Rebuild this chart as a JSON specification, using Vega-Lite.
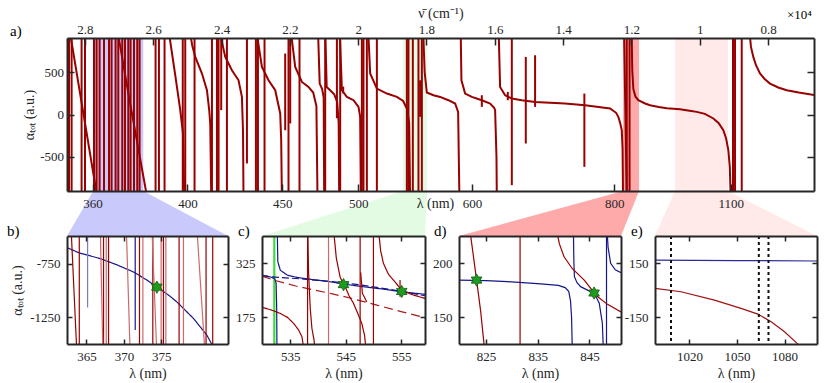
{
"$schema":"https://vega.github.io/schema/vega-lite/v6.json",
"autosize":{"type":"pad"},
"padding":{"left":7,"top":6,"right":5,"bottom":5},
"background":"white",
"title":{"text":"×10⁴","anchor":"end","frame":"bounds","fontSize":13,"dx":-6,"dy":20},
"datasets":{
"bands":[{"k":"b","x1":2.7756,"x2":2.6292},{"k":"c","x1":1.8683,"x2":1.7981},{"k":"d","x1":1.2245,"x2":1.1777},{"k":"e","x1":1.0723,"x2":0.9172}],
"trap":[{"k":"b","a":-905,"x1":2.7756,"x2":2.6292},{"k":"b","a":-1437,"x1":2.8525,"x2":2.3812},
{"k":"c","a":-905,"x1":1.8683,"x2":1.7981},{"k":"c","a":-1437,"x1":2.2816,"x2":1.8044},
{"k":"d","a":-905,"x1":1.2245,"x2":1.1777},{"k":"d","a":-1437,"x1":1.7049,"x2":1.2306},
{"k":"e","a":-905,"x1":1.0723,"x2":0.9172},{"k":"e","a":-1437,"x1":1.1310,"x2":0.6568}],
"top":[
{"s":"v1","n":2.8467,"a":1000},{"s":"v1","n":2.8467,"a":-1000},
{"s":"v2","n":2.8390,"a":1000},{"s":"v2","n":2.8390,"a":-1000},
{"s":"v3","n":2.8098,"a":1000},{"s":"v3","n":2.8098,"a":-1000},
{"s":"v4","n":2.7998,"a":1000},{"s":"v4","n":2.7998,"a":-1000},
{"s":"v5","n":2.7735,"a":1000},{"s":"v5","n":2.7735,"a":-1000},
{"s":"v6","n":2.7659,"a":1000},{"s":"v6","n":2.7659,"a":-1000},
{"s":"v7","n":2.7571,"a":1000},{"s":"v7","n":2.7571,"a":-1000},
{"s":"v8","n":2.7442,"a":1000},{"s":"v8","n":2.7442,"a":-1000},
{"s":"v9","n":2.7296,"a":1000},{"s":"v9","n":2.7296,"a":-1000},
{"s":"v10","n":2.7220,"a":1000},{"s":"v10","n":2.7220,"a":-1000},
{"s":"v11","n":2.7103,"a":1000},{"s":"v11","n":2.7103,"a":-1000},
{"s":"v12","n":2.7024,"a":1000},{"s":"v12","n":2.7024,"a":-1000},
{"s":"v13","n":2.6907,"a":1000},{"s":"v13","n":2.6907,"a":-1000},
{"s":"v14","n":2.6828,"a":1000},{"s":"v14","n":2.6828,"a":-1000},
{"s":"v15","n":2.6731,"a":1000},{"s":"v15","n":2.6731,"a":-1000},
{"s":"v16","n":2.6664,"a":1000},{"s":"v16","n":2.6664,"a":-1000},
{"s":"v17","n":2.6564,"a":1000},{"s":"v17","n":2.6564,"a":-1000},
{"s":"v18","n":2.6468,"a":1000},{"s":"v18","n":2.6468,"a":-1000},
{"s":"v19","n":2.6400,"a":1000},{"s":"v19","n":2.6400,"a":-1000},
{"s":"v20","n":2.5932,"a":1000},{"s":"v20","n":2.5932,"a":-1000},
{"s":"v21","n":2.5833,"a":1000},{"s":"v21","n":2.5833,"a":-1000},
{"s":"v22","n":2.5669,"a":1000},{"s":"v22","n":2.5669,"a":-1000},
{"s":"v23","n":2.5136,"a":1000},{"s":"v23","n":2.5136,"a":-1000},
{"s":"v24","n":2.5063,"a":1000},{"s":"v24","n":2.5063,"a":-1000},
{"s":"v25","n":2.4791,"a":1000},{"s":"v25","n":2.4791,"a":-1000},
{"s":"v26","n":2.4281,"a":1000},{"s":"v26","n":2.4281,"a":-1000},
{"s":"v27","n":2.4135,"a":1000},{"s":"v27","n":2.4135,"a":-1000},
{"s":"v28","n":2.4088,"a":1000},{"s":"v28","n":2.4088,"a":-1000},
{"s":"v29","n":2.3843,"a":1000},{"s":"v29","n":2.3843,"a":-1000},
{"s":"v30","n":2.2994,"a":1000},{"s":"v30","n":2.2994,"a":-1000},
{"s":"v31","n":2.2935,"a":1000},{"s":"v31","n":2.2935,"a":-1000},
{"s":"v32","n":2.2742,"a":1000},{"s":"v32","n":2.2742,"a":-1000},
{"s":"v33","n":2.2040,"a":1000},{"s":"v33","n":2.2040,"a":-1000},
{"s":"v34","n":2.1718,"a":1000},{"s":"v34","n":2.1718,"a":-1000},
{"s":"v35","n":2.0966,"a":1000},{"s":"v35","n":2.0966,"a":-1000},
{"s":"v36","n":2.0527,"a":1000},{"s":"v36","n":2.0527,"a":-1000},
{"s":"v37","n":1.9892,"a":1000},{"s":"v37","n":1.9892,"a":-1000},
{"s":"v38","n":1.9845,"a":1000},{"s":"v38","n":1.9845,"a":-1000},
{"s":"v39","n":1.9746,"a":1000},{"s":"v39","n":1.9746,"a":-1000},
{"s":"v40","n":1.9453,"a":1000},{"s":"v40","n":1.9453,"a":-1000},
{"s":"v41","n":1.8575,"a":1000},{"s":"v41","n":1.8575,"a":-1000},
{"s":"v42","n":1.8528,"a":1000},{"s":"v42","n":1.8528,"a":-1000},
{"s":"v43","n":1.8400,"a":1000},{"s":"v43","n":1.8400,"a":-1000},
{"s":"v44","n":1.8235,"a":1000},{"s":"v44","n":1.8235,"a":-1000},
{"s":"v45","n":1.8136,"a":1000},{"s":"v45","n":1.8136,"a":-1000},
{"s":"v46","n":1.2137,"a":1000},{"s":"v46","n":1.2137,"a":-1000},
{"s":"v47","n":1.2055,"a":1000},{"s":"v47","n":1.2055,"a":-1000},
{"s":"v48","n":0.9027,"a":1000},{"s":"v48","n":0.9027,"a":-1000},
{"s":"v49","n":0.8967,"a":1000},{"s":"v49","n":0.8967,"a":-1000},
{"s":"v50","n":0.8771,"a":1000},{"s":"v50","n":0.8771,"a":-1000},
{"s":"S1","n":2.8450,"a":1000},{"s":"S1","n":2.8040,"a":0},{"s":"S1","n":2.7630,"a":-1000},
{"s":"S2","n":2.7050,"a":1000},{"s":"S2","n":2.6711,"a":208},{"s":"S2","n":2.6170,"a":-1000},
{"s":"S3","n":2.5552,"a":1000},{"s":"S3","n":2.5356,"a":465},{"s":"S3","n":2.5209,"a":51},{"s":"S3","n":2.5130,"a":-221},{"s":"S3","n":2.5092,"a":-1000},
{"s":"S4","n":2.4931,"a":1000},{"s":"S4","n":2.4860,"a":820},{"s":"S4","n":2.4770,"a":681},{"s":"S4","n":2.4574,"a":485},{"s":"S4","n":2.4428,"a":287},{"s":"S4","n":2.4361,"a":50},{"s":"S4","n":2.4331,"a":-106},{"s":"S4","n":2.4302,"a":-1000},
{"s":"S5","n":2.4068,"a":1000},{"s":"S5","n":2.3892,"a":681},{"s":"S5","n":2.3697,"a":524},{"s":"S5","n":2.3503,"a":405},{"s":"S5","n":2.3404,"a":208},{"s":"S5","n":2.3372,"a":-200},{"s":"S5","n":2.3357,"a":-1000},
{"s":"S6","n":2.2985,"a":1000},{"s":"S6","n":2.2818,"a":563},{"s":"S6","n":2.2625,"a":405},{"s":"S6","n":2.2429,"a":287},{"s":"S6","n":2.2283,"a":12},{"s":"S6","n":2.2254,"a":-300},{"s":"S6","n":2.2233,"a":-1000},
{"s":"S7","n":2.1976,"a":1000},{"s":"S7","n":2.1844,"a":563},{"s":"S7","n":2.1648,"a":385},{"s":"S7","n":2.1454,"a":326},{"s":"S7","n":2.1317,"a":260},{"s":"S7","n":2.1223,"a":100},{"s":"S7","n":2.1191,"a":-1000},
{"s":"S8","n":2.1177,"a":1000},{"s":"S8","n":2.1127,"a":366},{"s":"S8","n":2.1054,"a":300},{"s":"S8","n":2.1010,"a":200},{"s":"S8","n":2.0995,"a":-1000},
{"s":"S9","n":2.0966,"a":1000},{"s":"S9","n":2.0922,"a":326},{"s":"S9","n":2.0820,"a":287},{"s":"S9","n":2.0703,"a":240},{"s":"S9","n":2.0615,"a":150},{"s":"S9","n":2.0571,"a":-100},{"s":"S9","n":2.0556,"a":-1000},
{"s":"S10","n":2.0541,"a":1000},{"s":"S10","n":2.0477,"a":287},{"s":"S10","n":2.0331,"a":208},{"s":"S10","n":2.0137,"a":169},{"s":"S10","n":1.9991,"a":90},{"s":"S10","n":1.9942,"a":-28},{"s":"S10","n":1.9921,"a":-1000},
{"s":"S11","n":1.9708,"a":1000},{"s":"S11","n":1.9649,"a":485},{"s":"S11","n":1.9453,"a":307},{"s":"S11","n":1.9160,"a":248},{"s":"S11","n":1.8868,"a":208},{"s":"S11","n":1.8683,"a":160},{"s":"S11","n":1.8566,"a":60},{"s":"S11","n":1.8508,"a":-100},{"s":"S11","n":1.8479,"a":-1000},
{"s":"S12","n":1.8098,"a":1000},{"s":"S12","n":1.8054,"a":500},{"s":"S12","n":1.7990,"a":260},{"s":"S12","n":1.7797,"a":228},{"s":"S12","n":1.7601,"a":208},{"s":"S12","n":1.7358,"a":169},{"s":"S12","n":1.7162,"a":130},{"s":"S12","n":1.7074,"a":30},{"s":"S12","n":1.7036,"a":-1000},
{"s":"S13","n":1.7000,"a":1000},{"s":"S13","n":1.6977,"a":405},{"s":"S13","n":1.6869,"a":248},{"s":"S13","n":1.6673,"a":208},{"s":"S13","n":1.6380,"a":169},{"s":"S13","n":1.6137,"a":130},{"s":"S13","n":1.6020,"a":80},{"s":"S13","n":1.5991,"a":51},{"s":"S13","n":1.5951,"a":-500},{"s":"S13","n":1.5941,"a":-1000},
{"s":"S14","n":1.5888,"a":1000},{"s":"S14","n":1.5845,"a":326},{"s":"S14","n":1.5699,"a":228},{"s":"S14","n":1.5502,"a":189},{"s":"S14","n":1.5210,"a":169},{"s":"S14","n":1.4821,"a":149},{"s":"S14","n":1.3943,"a":130},{"s":"S14","n":1.3357,"a":110},{"s":"S14","n":1.2626,"a":71},{"s":"S14","n":1.2450,"a":20},{"s":"S14","n":1.2383,"a":-28},{"s":"S14","n":1.2330,"a":-100},{"s":"S14","n":1.2283,"a":-186},{"s":"S14","n":1.2260,"a":-400},{"s":"S14","n":1.2245,"a":-1000},
{"s":"S15","n":1.1996,"a":1000},{"s":"S15","n":1.1975,"a":520},{"s":"S15","n":1.1944,"a":300},{"s":"S15","n":1.1880,"a":210},{"s":"S15","n":1.1798,"a":169},{"s":"S15","n":1.1600,"a":130},{"s":"S15","n":1.1455,"a":110},{"s":"S15","n":1.1200,"a":90},{"s":"S15","n":1.0966,"a":75},{"s":"S15","n":1.0577,"a":63},{"s":"S15","n":1.0300,"a":45},{"s":"S15","n":1.0088,"a":31},{"s":"S15","n":0.9850,"a":8},{"s":"S15","n":0.9602,"a":-47},{"s":"S15","n":0.9450,"a":-100},{"s":"S15","n":0.9310,"a":-186},{"s":"S15","n":0.9230,"a":-280},{"s":"S15","n":0.9163,"a":-422},{"s":"S15","n":0.9120,"a":-620},{"s":"S15","n":0.9093,"a":-1000},
{"s":"S16","n":0.8549,"a":1000},{"s":"S16","n":0.8500,"a":800},{"s":"S16","n":0.8432,"a":681},{"s":"S16","n":0.8350,"a":580},{"s":"S16","n":0.8236,"a":485},{"s":"S16","n":0.8100,"a":420},{"s":"S16","n":0.7943,"a":366},{"s":"S16","n":0.7700,"a":320},{"s":"S16","n":0.7455,"a":287},{"s":"S16","n":0.7100,"a":260},{"s":"S16","n":0.6600,"a":228},
{"s":"SL1","n":1.2216,"a":1000},{"s":"SL1","n":1.2137,"a":-1000},
{"s":"p1","n":2.4010,"a":1000},{"s":"p1","n":2.4010,"a":51},
{"s":"p2","n":2.3257,"a":1000},{"s":"p2","n":2.3257,"a":-579},
{"s":"p3","n":2.2137,"a":721},{"s":"p3","n":2.2137,"a":-186},
{"s":"p4","n":2.1990,"a":1000},{"s":"p4","n":2.1990,"a":-106},
{"s":"p5","n":2.0623,"a":1000},{"s":"p5","n":2.0623,"a":-44},
{"s":"p6","n":2.0439,"a":330},{"s":"p6","n":2.0439,"a":250},
{"s":"p7","n":1.8186,"a":405},{"s":"p7","n":1.8186,"a":-28},
{"s":"p8","n":1.6380,"a":228},{"s":"p8","n":1.6380,"a":90},
{"s":"p9","n":1.5620,"a":267},{"s":"p9","n":1.5620,"a":169},
{"s":"p10","n":1.5502,"a":1000},{"s":"p10","n":1.5502,"a":-836},
{"s":"p11","n":1.5093,"a":681},{"s":"p11","n":1.5093,"a":-343},
{"s":"p12","n":1.4821,"a":701},{"s":"p12","n":1.4821,"a":90},
{"s":"p13","n":1.3378,"a":248},{"s":"p13","n":1.3378,"a":-619}
],
"pb":[
{"s":"b1","k":"nv","x":362.4,"a":-602},{"s":"b1","k":"nv","x":364,"a":-650},{"s":"b1","k":"nv","x":366.84,"a":-704},{"s":"b1","k":"nv","x":369,"a":-760},{"s":"b1","k":"nv","x":371.28,"a":-828},{"s":"b1","k":"nv","x":373,"a":-900},{"s":"b1","k":"nv","x":374.4,"a":-967},{"s":"b1","k":"nv","x":376,"a":-1045},{"s":"b1","k":"nv","x":377.07,"a":-1106},{"s":"b1","k":"nv","x":379.28,"a":-1259},{"s":"b1","k":"nv","x":381.07,"a":-1414},{"s":"b1","k":"nv","x":381.9,"a":-1520},
{"s":"b2","k":"lb","x":365.15,"a":-400},{"s":"b2","k":"lb","x":365.15,"a":-1157},
{"s":"b3","k":"nv","x":371.51,"a":-400},{"s":"b3","k":"nv","x":371.51,"a":-1368},
{"s":"r1","k":"rd","x":364.04,"a":-400},{"s":"r1","k":"rd","x":364.04,"a":-1600},
{"s":"r2","k":"rd","x":367.28,"a":-400},{"s":"r2","k":"rd","x":367.28,"a":-1600},
{"s":"r3","k":"lr","x":367.64,"a":-400},{"s":"r3","k":"lr","x":367.64,"a":-1600},
{"s":"r4","k":"rd","x":367.95,"a":-400},{"s":"r4","k":"rd","x":367.95,"a":-1600},
{"s":"r5","k":"rd","x":372.08,"a":-400},{"s":"r5","k":"rd","x":372.08,"a":-1600},
{"s":"r6","k":"lr","x":372.53,"a":-400},{"s":"r6","k":"lr","x":372.53,"a":-1600},
{"s":"r7","k":"rd","x":373.86,"a":-400},{"s":"r7","k":"rd","x":373.86,"a":-1600},
{"s":"r8","k":"lr","x":374.97,"a":-400},{"s":"r8","k":"lr","x":374.97,"a":-1600},
{"s":"r9","k":"rd","x":375.28,"a":-400},{"s":"r9","k":"rd","x":375.28,"a":-1600},
{"s":"r10","k":"lr","x":375.6,"a":-400},{"s":"r10","k":"lr","x":375.6,"a":-1600},
{"s":"r11","k":"rd","x":377.37,"a":-400},{"s":"r11","k":"rd","x":377.37,"a":-1600},
{"s":"r12","k":"lr","x":377.95,"a":-400},{"s":"r12","k":"lr","x":377.95,"a":-1600},
{"s":"r13","k":"rd","x":380.97,"a":-400},{"s":"r13","k":"rd","x":380.97,"a":-1600},
{"s":"r14","k":"rd","x":381.86,"a":-400},{"s":"r14","k":"rd","x":381.86,"a":-1600},
{"s":"l1","k":"rd","x":362.93,"a":-400},{"s":"l1","k":"rd","x":363.73,"a":-1600},
{"s":"l2","k":"lr","x":366.84,"a":-400},{"s":"l2","k":"lr","x":367.2,"a":-1600},
{"s":"l3","k":"lr","x":370.31,"a":-400},{"s":"l3","k":"lr","x":370.84,"a":-1600},
{"s":"l4","k":"lr","x":373.73,"a":-400},{"s":"l4","k":"lr","x":374.4,"a":-1600},
{"s":"l5","k":"lr","x":379.73,"a":-400},{"s":"l5","k":"lr","x":380.84,"a":-1600}
],
"pbs":[{"x":374.4,"a":-969}],
"pc":[
{"s":"n1","k":"nv","x":529.9,"a":292.5},{"s":"n1","k":"nv","x":531.5,"a":287},{"s":"n1","k":"nv","x":532.2,"a":282},{"s":"n1","k":"nv","x":532.45,"a":270},{"s":"n1","k":"nv","x":532.55,"a":200},{"s":"n1","k":"nv","x":532.6,"a":80},
{"s":"n2","k":"nv","x":532.65,"a":420},{"s":"n2","k":"nv","x":532.75,"a":330},{"s":"n2","k":"nv","x":533.2,"a":306},{"s":"n2","k":"nv","x":534.5,"a":292},{"s":"n2","k":"nv","x":536.2,"a":286},{"s":"n2","k":"nv","x":539,"a":280},{"s":"n2","k":"nv","x":542.2,"a":274},{"s":"n2","k":"nv","x":544.6,"a":267.5},{"s":"n2","k":"nv","x":548.2,"a":260},{"s":"n2","k":"nv","x":552,"a":253},{"s":"n2","k":"nv","x":555.1,"a":246},{"s":"n2","k":"nv","x":559.3,"a":239},
{"s":"nd","k":"nd","x":529.9,"a":290},{"s":"nd","k":"nd","x":533,"a":286},{"s":"nd","k":"nd","x":536,"a":283},{"s":"nd","k":"nd","x":540,"a":278},{"s":"nd","k":"nd","x":544.6,"a":271},{"s":"nd","k":"nd","x":548.2,"a":264},{"s":"nd","k":"nd","x":552,"a":255},{"s":"nd","k":"nd","x":555.1,"a":247},{"s":"nd","k":"nd","x":559.3,"a":235},
{"s":"rdd","k":"rdd","x":529.9,"a":289.7},{"s":"rdd","k":"rdd","x":532,"a":278.6},{"s":"rdd","k":"rdd","x":536,"a":262},{"s":"rdd","k":"rdd","x":542.2,"a":241.6},{"s":"rdd","k":"rdd","x":546,"a":228},{"s":"rdd","k":"rdd","x":550.6,"a":209.2},{"s":"rdd","k":"rdd","x":555,"a":191},{"s":"rdd","k":"rdd","x":559.3,"a":174},
{"s":"r1","k":"rd","x":529.9,"a":202.7},{"s":"r1","k":"rd","x":531.5,"a":196},{"s":"r1","k":"rd","x":533.2,"a":186},{"s":"r1","k":"rd","x":534.5,"a":175},{"s":"r1","k":"rd","x":535.6,"a":158.3},{"s":"r1","k":"rd","x":536.5,"a":140},{"s":"r1","k":"rd","x":537.1,"a":121.3},{"s":"r1","k":"rd","x":537.52,"a":80},
{"s":"r2","k":"rd","x":538.12,"a":80},{"s":"r2","k":"rd","x":538.12,"a":420},
{"s":"r3","k":"rd","x":538.15,"a":420},{"s":"r3","k":"rd","x":538.3,"a":300},{"s":"r3","k":"rd","x":538.6,"a":200},{"s":"r3","k":"rd","x":538.9,"a":145},{"s":"r3","k":"rd","x":539.3,"a":110},{"s":"r3","k":"rd","x":539.5,"a":80},
{"s":"l1","k":"lr","x":541.9,"a":80},{"s":"l1","k":"lr","x":541.9,"a":420},
{"s":"r4","k":"rd","x":542.8,"a":420},{"s":"r4","k":"rd","x":543.3,"a":340},{"s":"r4","k":"rd","x":544,"a":286},{"s":"r4","k":"rd","x":544.9,"a":260},{"s":"r4","k":"rd","x":545.6,"a":235},{"s":"r4","k":"rd","x":546.4,"a":214},{"s":"r4","k":"rd","x":547.2,"a":185},{"s":"r4","k":"rd","x":547.9,"a":158},{"s":"r4","k":"rd","x":548.4,"a":125},{"s":"r4","k":"rd","x":548.7,"a":80},
{"s":"r5","k":"rd","x":547.6,"a":80},{"s":"r5","k":"rd","x":547.6,"a":420},
{"s":"r6","k":"rd","x":547.7,"a":300},{"s":"r6","k":"rd","x":548,"a":242},{"s":"r6","k":"rd","x":548.8,"a":218},
{"s":"r7","k":"rd","x":550.0,"a":80},{"s":"r7","k":"rd","x":550.0,"a":420},
{"s":"r8","k":"rd","x":550.9,"a":420},{"s":"r8","k":"rd","x":551.3,"a":360},{"s":"r8","k":"rd","x":551.8,"a":325},{"s":"r8","k":"rd","x":552.7,"a":295},{"s":"r8","k":"rd","x":553.6,"a":278.6},{"s":"r8","k":"rd","x":555.1,"a":250.8},{"s":"r8","k":"rd","x":557,"a":238},{"s":"r8","k":"rd","x":559.3,"a":227.7},
{"s":"r9","k":"rd","x":554.8,"a":278.6},{"s":"r9","k":"rd","x":554.8,"a":232.4}
],
"pcs":[{"x":544.6,"a":266},{"x":555.1,"a":247}],
"pcg":[{"x":532.12}],
"pd":[
{"s":"r1","k":"rd","x":821.9,"a":232},{"s":"r1","k":"rd","x":822.06,"a":225.3},{"s":"r1","k":"rd","x":823.2,"a":184.5},{"s":"r1","k":"rd","x":824.0,"a":155},{"s":"r1","k":"rd","x":824.64,"a":125},{"s":"r1","k":"rd","x":824.75,"a":118},
{"s":"r2","k":"rd","x":831.6,"a":118},{"s":"r2","k":"rd","x":831.6,"a":232},
{"s":"nA","k":"nv","x":819.8,"a":184.5},{"s":"nA","k":"nv","x":825,"a":184},{"s":"nA","k":"nv","x":829.15,"a":183},{"s":"nA","k":"nv","x":835.6,"a":181},{"s":"nA","k":"nv","x":839,"a":179.5},{"s":"nA","k":"nv","x":840.3,"a":177.5},{"s":"nA","k":"nv","x":841.0,"a":174},{"s":"nA","k":"nv","x":841.35,"a":165},{"s":"nA","k":"nv","x":841.55,"a":150},{"s":"nA","k":"nv","x":841.7,"a":118},
{"s":"nB","k":"nv","x":841.9,"a":232},{"s":"nB","k":"nv","x":842.0,"a":200},{"s":"nB","k":"nv","x":842.1,"a":187.6},{"s":"nB","k":"nv","x":842.6,"a":182},{"s":"nB","k":"nv","x":843.3,"a":178.4},{"s":"nB","k":"nv","x":845.9,"a":172.2},{"s":"nB","k":"nv","x":846.5,"a":167},{"s":"nB","k":"nv","x":846.9,"a":163},{"s":"nB","k":"nv","x":847.25,"a":152},{"s":"nB","k":"nv","x":847.5,"a":144.5},{"s":"nB","k":"nv","x":847.7,"a":118},
{"s":"nV","k":"nv","x":848.3,"a":118},{"s":"nV","k":"nv","x":848.3,"a":232},
{"s":"nC","k":"nv","x":848.4,"a":232},{"s":"nC","k":"nv","x":848.6,"a":215},{"s":"nC","k":"nv","x":849.1,"a":200},{"s":"nC","k":"nv","x":850,"a":194},{"s":"nC","k":"nv","x":851.1,"a":191.4},
{"s":"r3","k":"rd","x":838.6,"a":232},{"s":"r3","k":"rd","x":839.2,"a":218},{"s":"r3","k":"rd","x":840.1,"a":206},{"s":"r3","k":"rd","x":841.7,"a":195},{"s":"r3","k":"rd","x":844.0,"a":184.5},{"s":"r3","k":"rd","x":845.9,"a":172.8},{"s":"r3","k":"rd","x":846.6,"a":169},{"s":"r3","k":"rd","x":848.5,"a":162},{"s":"r3","k":"rd","x":851.1,"a":155}
],
"pds":[{"x":823.2,"a":184.5},{"x":845.9,"a":172.5}],
"pe":[
{"x":998.3,"a":10.9},{"x":1014.7,"a":-7.6},{"x":1035.8,"a":-53.9},{"x":1052.6,"a":-100.2},{"x":1063.2,"a":-131.7},{"x":1071.6,"a":-174.3},{"x":1080,"a":-229.8},{"x":1088.4,"a":-298},{"x":1089,"a":-310}
],
"pen":[{"x":998.3,"a":168},{"x":1050,"a":165.5},{"x":1100.5,"a":163}],
"ped":[{"x":1008.4},{"x":1063.8},{"x":1069.9}]
},
"spacing":45,
"bounds":"flush",
"resolve":{"scale":{"color":"independent","strokeDash":"independent"}},
"vconcat":[
{
"width":747,"height":153,
"title":{"text":"a)","dx":-57,"dy":37},
"layer":[
{"data":{"name":"bands"},"mark":{"type":"rect"},
 "encoding":{
  "x":{"field":"x1","type":"quantitative","scale":{"domain":[2.8525,0.6655],"nice":false,"zero":false},
       "axis":{"orient":"top","zindex":1,"values":[2.8,2.6,2.4,2.2,2,1.8,1.6,1.4,1.2,1,0.8],"format":".1~f","title":"ν̄ (cm⁻¹)","tickSize":-7,"labelPadding":9,"titlePadding":3}},
  "x2":{"field":"x2"},
  "color":{"field":"k","type":"nominal","scale":{"domain":["b","c","d","e"],"range":["#c9c9fb","#e3fbe3","#ffaaaa","#ffe9e9"]},"legend":null}}},
{"data":{"name":"trap"},"mark":{"type":"area","orient":"horizontal","clip":false},
 "encoding":{
  "y":{"field":"a","type":"quantitative","scale":{"domain":[-905,905],"nice":false,"zero":false},
       "axis":{"orient":"right","zindex":1,"values":[-500,0,500],"labels":false,"title":null,"tickSize":-7}},
  "x":{"field":"x1","type":"quantitative","scale":{"domain":[2.8525,0.6655],"nice":false,"zero":false},"axis":null},
  "x2":{"field":"x2"},
  "color":{"field":"k","type":"nominal","scale":{"domain":["b","c","d","e"],"range":["#c9c9fb","#e3fbe3","#ffaaaa","#ffe9e9"]},"legend":null}}},
{"data":{"name":"top"},"mark":{"type":"line","clip":true,"strokeWidth":2,"color":"#990000"},
 "encoding":{
  "x":{"field":"n","type":"quantitative","scale":{"domain":[2.8525,0.6655],"nice":false,"zero":false},
       "axis":{"orient":"bottom","zindex":2,"values":[2.777778,2.5,2.222222,2,1.666667,1.25,0.909091],"labelExpr":"format(1000/datum.value,'.0f')","title":"λ (nm)","titleX":368,"titleY":12,"titleBaseline":"middle","tickSize":-7,"labelPadding":13}},
  "y":{"field":"a","type":"quantitative","scale":{"domain":[-905,905],"nice":false,"zero":false},
       "axis":{"orient":"left","zindex":1,"values":[-500,0,500],"labelExpr":"datum.value < 0 ? '-' + abs(datum.value) : '' + datum.value","title":"αₜₒₜ (a.u.)","tickSize":-7,"labelPadding":10.5,"titlePadding":3}},
  "detail":{"field":"s","type":"nominal"}}}
],
"resolve":{"axis":{"x":"independent","y":"independent"}}
},
{
"hconcat":[
{
"width":161,"height":108,
"title":{"text":"b)","dx":-60,"dy":8},
"layer":[
{"data":{"name":"pb"},"mark":{"type":"line","clip":true,"strokeWidth":1.2},
 "encoding":{
  "x":{"field":"x","type":"quantitative","scale":{"domain":[362.4,383.9],"nice":false,"zero":false},
       "axis":{"orient":"bottom","zindex":1,"values":[365,370,375],"title":"λ (nm)","tickSize":-5,"labelPadding":11,"titlePadding":3}},
  "y":{"field":"a","type":"quantitative","scale":{"domain":[-1497,-494],"nice":false,"zero":false},
       "axis":{"orient":"left","zindex":1,"values":[-750,-1250],"labelExpr":"datum.value < 0 ? '-' + abs(datum.value) : '' + datum.value","title":"αₜₒₜ (a.u.)","tickSize":-5,"labelPadding":12,"titlePadding":5}},
  "color":{"field":"k","type":"nominal","scale":{"domain":["rd","lr","nv","lb","nd","rdd"],"range":["#990000","#cc6a6a","#16168a","#7a7ac8","#16168a","#aa1a1a"]},"legend":null},
  "strokeDash":{"field":"k","type":"nominal","scale":{"domain":["rd","lr","nv","lb","nd","rdd"],"range":[[1,0],[1,0],[1,0],[1,0],[7,3],[9,5]]},"legend":null},
  "detail":{"field":"s","type":"nominal"}}},
{"data":{"name":"pbs"},"mark":{"type":"point","shape":"M0,-1L0.29,-0.5L0.87,-0.5L0.58,0L0.87,0.5L0.29,0.5L0,1L-0.29,0.5L-0.87,0.5L-0.58,0L-0.87,-0.5L-0.29,-0.5Z","filled":true,"fill":"#1e9a1e","stroke":"#0d5c0d","strokeWidth":0.8,"size":150,"opacity":1},
 "encoding":{
  "x":{"field":"x","type":"quantitative","scale":{"domain":[362.4,383.9],"nice":false,"zero":false},"axis":{"orient":"top","zindex":1,"values":[365,370,375],"labels":false,"title":null,"tickSize":-5}},
  "y":{"field":"a","type":"quantitative","scale":{"domain":[-1497,-494],"nice":false,"zero":false},"axis":{"orient":"right","zindex":1,"values":[-750,-1250],"labels":false,"title":null,"tickSize":-5}}}}
],
"resolve":{"axis":{"x":"independent","y":"independent"}}
},
{
"width":163,"height":108,
"title":{"text":"c)","dx":-24,"dy":8},
"layer":[
{"data":{"name":"pcg"},"mark":{"type":"rule","color":"#3ddc3d","strokeWidth":2.2},
 "encoding":{"x":{"field":"x","type":"quantitative","scale":{"domain":[529.9,559.3],"nice":false,"zero":false},"axis":null}}},
{"data":{"name":"pc"},"mark":{"type":"line","clip":true,"strokeWidth":1.2},
 "encoding":{
  "x":{"field":"x","type":"quantitative","scale":{"domain":[529.9,559.3],"nice":false,"zero":false},
       "axis":{"orient":"bottom","zindex":1,"values":[535,545,555],"title":"λ (nm)","tickSize":-5,"labelPadding":11,"titlePadding":3}},
  "y":{"field":"a","type":"quantitative","scale":{"domain":[101,401],"nice":false,"zero":false},
       "axis":{"orient":"left","zindex":1,"values":[325,175],"title":null,"tickSize":-5,"labelPadding":12}},
  "color":{"field":"k","type":"nominal","scale":{"domain":["rd","lr","nv","lb","nd","rdd"],"range":["#990000","#cc6a6a","#16168a","#7a7ac8","#16168a","#aa1a1a"]},"legend":null},
  "strokeDash":{"field":"k","type":"nominal","scale":{"domain":["rd","lr","nv","lb","nd","rdd"],"range":[[1,0],[1,0],[1,0],[1,0],[7,3],[9,5]]},"legend":null},
  "detail":{"field":"s","type":"nominal"}}},
{"data":{"name":"pcs"},"mark":{"type":"point","shape":"M0,-1L0.29,-0.5L0.87,-0.5L0.58,0L0.87,0.5L0.29,0.5L0,1L-0.29,0.5L-0.87,0.5L-0.58,0L-0.87,-0.5L-0.29,-0.5Z","filled":true,"fill":"#1e9a1e","stroke":"#0d5c0d","strokeWidth":0.8,"size":150,"opacity":1},
 "encoding":{
  "x":{"field":"x","type":"quantitative","scale":{"domain":[529.9,559.3],"nice":false,"zero":false},"axis":{"orient":"top","zindex":1,"values":[535,545,555],"labels":false,"title":null,"tickSize":-5}},
  "y":{"field":"a","type":"quantitative","scale":{"domain":[101,401],"nice":false,"zero":false},"axis":{"orient":"right","zindex":1,"values":[325,175],"labels":false,"title":null,"tickSize":-5}}}}
],
"resolve":{"axis":{"x":"independent","y":"independent"}}
},
{
"width":162,"height":108,
"title":{"text":"d)","dx":-25,"dy":8},
"layer":[
{"data":{"name":"pd"},"mark":{"type":"line","clip":true,"strokeWidth":1.2},
 "encoding":{
  "x":{"field":"x","type":"quantitative","scale":{"domain":[819.8,851.1],"nice":false,"zero":false},
       "axis":{"orient":"bottom","zindex":1,"values":[825,835,845],"title":"λ (nm)","tickSize":-5,"labelPadding":11,"titlePadding":3}},
  "y":{"field":"a","type":"quantitative","scale":{"domain":[125.3,225.3],"nice":false,"zero":false},
       "axis":{"orient":"left","zindex":1,"values":[200,150],"title":null,"tickSize":-5,"labelPadding":12}},
  "color":{"field":"k","type":"nominal","scale":{"domain":["rd","lr","nv","lb","nd","rdd"],"range":["#990000","#cc6a6a","#16168a","#7a7ac8","#16168a","#aa1a1a"]},"legend":null},
  "detail":{"field":"s","type":"nominal"}}},
{"data":{"name":"pds"},"mark":{"type":"point","shape":"M0,-1L0.29,-0.5L0.87,-0.5L0.58,0L0.87,0.5L0.29,0.5L0,1L-0.29,0.5L-0.87,0.5L-0.58,0L-0.87,-0.5L-0.29,-0.5Z","filled":true,"fill":"#1e9a1e","stroke":"#0d5c0d","strokeWidth":0.8,"size":150,"opacity":1},
 "encoding":{
  "x":{"field":"x","type":"quantitative","scale":{"domain":[819.8,851.1],"nice":false,"zero":false},"axis":{"orient":"top","zindex":1,"values":[825,835,845],"labels":false,"title":null,"tickSize":-5}},
  "y":{"field":"a","type":"quantitative","scale":{"domain":[125.3,225.3],"nice":false,"zero":false},"axis":{"orient":"right","zindex":1,"values":[200,150],"labels":false,"title":null,"tickSize":-5}}}}
],
"resolve":{"axis":{"x":"independent","y":"independent"}}
},
{
"width":162,"height":108,
"title":{"text":"e)","dx":-24,"dy":8},
"layer":[
{"data":{"name":"pe"},"mark":{"type":"line","clip":true,"strokeWidth":1.2,"color":"#a01010"},
 "encoding":{
  "x":{"field":"x","type":"quantitative","scale":{"domain":[998.3,1100.5],"nice":false,"zero":false},
       "axis":{"orient":"bottom","zindex":1,"values":[1020,1050,1080],"format":"d","title":"λ (nm)","tickSize":-5,"labelPadding":11,"titlePadding":3}},
  "y":{"field":"a","type":"quantitative","scale":{"domain":[-298,302],"nice":false,"zero":false},
       "axis":{"orient":"left","zindex":1,"values":[150,-150],"labelExpr":"datum.value < 0 ? '-' + abs(datum.value) : '' + datum.value","title":null,"tickSize":-5,"labelPadding":12}}}},
{"data":{"name":"pen"},"mark":{"type":"line","clip":true,"strokeWidth":1.2,"color":"#2a2a9a"},
 "encoding":{
  "x":{"field":"x","type":"quantitative","scale":{"domain":[998.3,1100.5],"nice":false,"zero":false},"axis":{"orient":"top","zindex":1,"values":[1020,1050,1080],"labels":false,"title":null,"tickSize":-5}},
  "y":{"field":"a","type":"quantitative","scale":{"domain":[-298,302],"nice":false,"zero":false},"axis":{"orient":"right","zindex":1,"values":[150,-150],"labels":false,"title":null,"tickSize":-5}}}},
{"data":{"name":"ped"},"mark":{"type":"rule","color":"#111111","strokeWidth":2,"strokeDash":[3,3]},
 "encoding":{"x":{"field":"x","type":"quantitative","scale":{"domain":[998.3,1100.5],"nice":false,"zero":false},"axis":null}}}
],
"resolve":{"axis":{"x":"independent","y":"independent"}}
}
],
"spacing":34,
"bounds":"flush"
}
],
"config":{
 "font":"Liberation Serif, Times New Roman, serif",
 "view":{"stroke":null},
 "text":{"font":"Liberation Serif, Times New Roman, serif"},
 "axis":{"labelFont":"Liberation Serif, Times New Roman, serif","labelFontSize":13,"labelColor":"#262626","titleFont":"Liberation Serif, Times New Roman, serif","titleFontSize":14,"titleFontWeight":"normal","titleColor":"#262626","domainColor":"#262626","domainWidth":2,"tickColor":"#262626","tickWidth":1.5,"grid":false,"labelFlush":false,"labelOverlap":false},
 "title":{"font":"Liberation Serif, Times New Roman, serif","fontSize":15,"fontWeight":"normal","anchor":"start","frame":"group","baseline":"middle","offset":0,"color":"#000000"}
}
}
